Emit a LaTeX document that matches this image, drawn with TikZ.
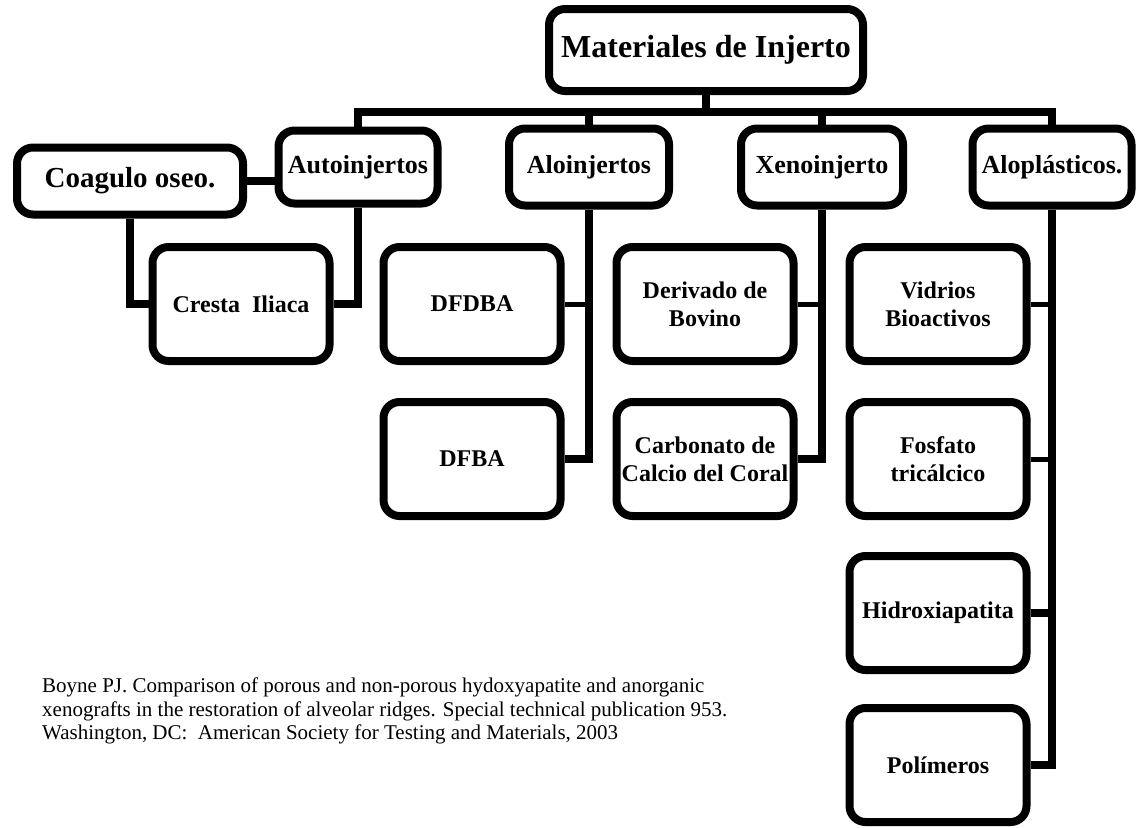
\documentclass[tikz,border=0pt]{standalone}
\usepackage{fontspec}
\setmainfont{Liberation Serif}
\usetikzlibrary{positioning}
\tikzset{
	caja/.style={draw, line width=8pt, rounded corners=16pt, fill=white, align=center, inner sep=0pt, font=\bfseries\fontsize{26}{30}\selectfont},
	hoja/.style={caja, minimum width=177pt, minimum height=114pt, font=\bfseries\fontsize{24}{28}\selectfont},
	enlace/.style={line width=8pt},
	fino/.style={line width=5pt},
}

\begin{document}
\begin{tikzpicture}[x=1pt, y=-1pt] % {{{
		\useasboundingbox (0,0) rectangle (1137,827);
		% Cajas principales {{{
		\node[caja, minimum width=314pt, minimum height=82pt, font=\bfseries\fontsize{32}{36}\selectfont] (raiz) at (706,50) {Materiales de Injerto};
		\coordinate (barra) at (706,112);
		\node[caja, minimum width=226pt, minimum height=67pt, font=\bfseries\fontsize{29}{33}\selectfont] (coagulo) at (130,181) {Coagulo oseo.};
		\node[caja, minimum width=159pt, minimum height=73pt] (auto) at (358,167) {Autoinjertos};
		\node[caja, minimum width=160pt, minimum height=77pt] (alo) at (589,167) {Aloinjertos};
		\node[caja, minimum width=162pt, minimum height=77pt] (xeno) at (822,167) {Xenoinjerto};
		\node[caja, minimum width=159pt, minimum height=77pt] (alopl) at (1052,167) {Alopl\'asticos.};
		% }}}
		% Hojas {{{
		\node[hoja] (cresta) at (241,304) {Cresta\ \ Iliaca};
		\node[hoja] (dfdba) at (472,304) {DFDBA};
		\node[hoja] (dfba) at (472,459) {DFBA};
		\node[hoja] (bovino) at (705,304) {Derivado de\\Bovino};
		\node[hoja] (coral) at (705,459) {Carbonato de\\Calcio del Coral};
		\node[hoja] (vidrios) at (938,304) {Vidrios\\Bioactivos};
		\node[hoja] (fosfato) at (938,459) {Fosfato\\tric\'alcico};
		\node[hoja] (hidroxi) at (938,613) {Hidroxiapatita};
		\node[hoja] (polimeros) at (938,765) {Pol\'imeros};
		% }}}
		% Conexiones {{{
		\draw[enlace] (raiz.south) -- (raiz.south |- barra);
		\draw[enlace] (auto.north) -- (auto.north |- barra) -- (alopl.north |- barra) -- (alopl.north);
		\draw[enlace] (alo.north) -- (alo.north |- barra);
		\draw[enlace] (xeno.north) -- (xeno.north |- barra);
		\draw[enlace] (coagulo.east) -- (auto.west |- coagulo.east);
		\draw[enlace] (coagulo.south) |- (cresta.west);
		\draw[enlace] (auto.south) |- (cresta.east);
		\draw[enlace] (alo.south) |- (dfba.east);
		\draw[fino] (dfdba.east) -- (dfdba.east -| alo.south);
		\draw[enlace] (xeno.south) |- (coral.east);
		\draw[fino] (bovino.east) -- (bovino.east -| xeno.south);
		\draw[enlace] (alopl.south) |- (polimeros.east);
		\draw[fino] (vidrios.east) -- (vidrios.east -| alopl.south);
		\draw[fino] (fosfato.east) -- (fosfato.east -| alopl.south);
		\draw[enlace] (hidroxi.east) -- (hidroxi.east -| alopl.south);
		% }}}
		\node[anchor=north west, inner sep=0pt, align=left, font=\fontsize{21}{23.5}\selectfont] (cita) at (42,678)
			{Boyne PJ. Comparison of porous and non-porous hydoxyapatite and anorganic\\
			xenografts in the restoration of alveolar ridges. Special technical publication 953.\\
			Washington, DC:\ \ American Society for Testing and Materials, 2003};
\end{tikzpicture} % }}}
\end{document}
